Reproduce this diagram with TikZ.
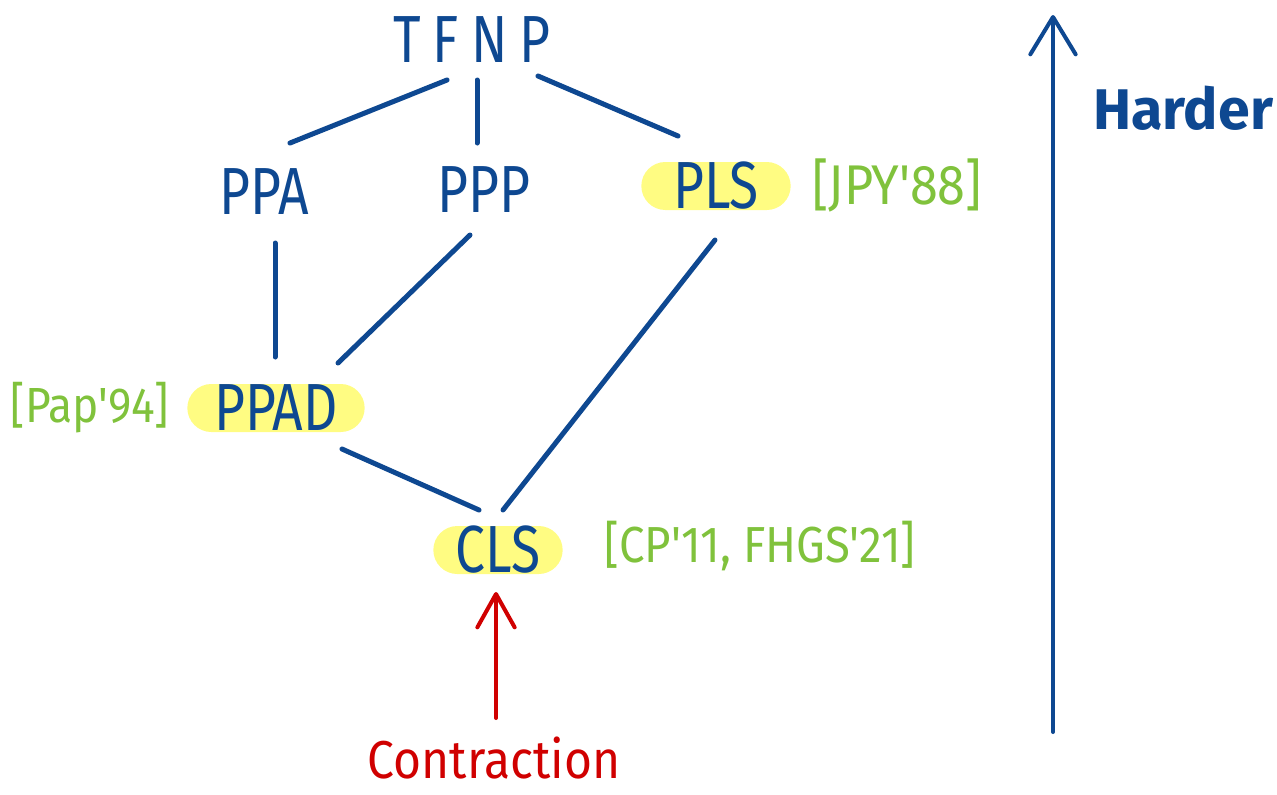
\documentclass[tikz,border=0pt]{standalone}
\usepackage{fontspec}
\setmainfont{Fira Sans}
\newfontfamily\hand[FakeStretch=0.8]{Fira Sans}
\newfontfamily\note[FakeStretch=0.9]{Fira Sans}
\usetikzlibrary{arrows.meta,calc}
\definecolor{ink}{RGB}{14,72,145}
\definecolor{lime}{RGB}{128,194,60}
\definecolor{marker}{RGB}{255,252,130}
\definecolor{pen}{RGB}{208,0,0}
\tikzset{
  cls/.style={text=ink, inner sep=0pt, font=\hand\fontsize{50}{52}\selectfont},
  hilite/.style={fill=marker, rounded corners=18pt, minimum height=36pt},
  cite/.style={text=lime, inner sep=0pt},
  link/.style={draw=ink, line width=3.75pt, line cap=round},
  scaleline/.style={draw=ink, line width=3pt, line cap=round,
    -{Straight Barb[length=28pt, width=34pt, line width=3pt, round]}},
  redline/.style={draw=pen, line width=3pt, line cap=round,
    -{Straight Barb[length=25pt, width=28pt, line width=3pt, round]}}
}
\begin{document}
\begin{tikzpicture}[x=0.75pt, y=-0.75pt]
\useasboundingbox (0,0) rectangle (1277,794);

% complexity classes
\node[cls, font=\hand\fontsize{50}{52}\selectfont\addfontfeature{LetterSpace=18}] (tfnp) at (472,40) {TFNP};
\node[cls] (ppa) at (264,192) {PPA};
\node[cls] (ppp) at (484,190) {PPP};
\node[cls, hilite, minimum width=112pt] (pls) at (716,186) {PLS};
\node[cls, hilite, minimum width=133pt] (ppad) at (276,408) {PPAD};
\node[cls, hilite, minimum width=97pt] (cls) at (498,550) {CLS};

% references
\node[cite, font=\note\fontsize{42}{44}\selectfont] (jpy) at (897,185) {[JPY'88]};
\node[cite, font=\note\fontsize{37}{39}\selectfont] (pap) at (90,408) {[Pap'94]};
\node[cite, font=\note\fontsize{38}{40}\selectfont] (cp) at (760,546) {[CP'11, FHGS'21]};

% inclusions
\draw[link] ([shift={(-25,40)}]tfnp.center) -- ([shift={(26,-49)}]ppa.center);
\draw[link] ([shift={(5,40)}]tfnp.center) -- ([shift={(-7,-47)}]ppp.center);
\draw[link] ([shift={(66,36)}]tfnp.center) -- ([shift={(-38,-50)}]pls.center);
\draw[link] ([shift={(11,51)}]ppa.center) -- ([shift={(-1,-51)}]ppad.center);
\draw[link] ([shift={(-14,45)}]ppp.center) -- ([shift={(62,-45)}]ppad.center);
\draw[link] ([shift={(-1,54)}]pls.center) -- ([shift={(5,-40)}]cls.center);
\draw[link] ([shift={(66,41)}]ppad.center) -- ([shift={(-19,-40)}]cls.center);

% contraction arrow
\node[text=pen, inner sep=0pt, font=\note\fontsize{40}{42}\selectfont] (contr) at (494,758) {Contraction};
\draw[redline] ([shift={(2,-40)}]contr.center) -- ([shift={(-2,42)}]cls.center);

% hardness scale
\coordinate (low) at (1053,732);
\coordinate (high) at (1053,15);
\draw[scaleline] (low) -- (high);
\node[text=ink, inner sep=0pt, font=\bfseries\fontsize{43}{45}\selectfont] (harder) at (1183,108) {Harder};
\end{tikzpicture}
\end{document}
